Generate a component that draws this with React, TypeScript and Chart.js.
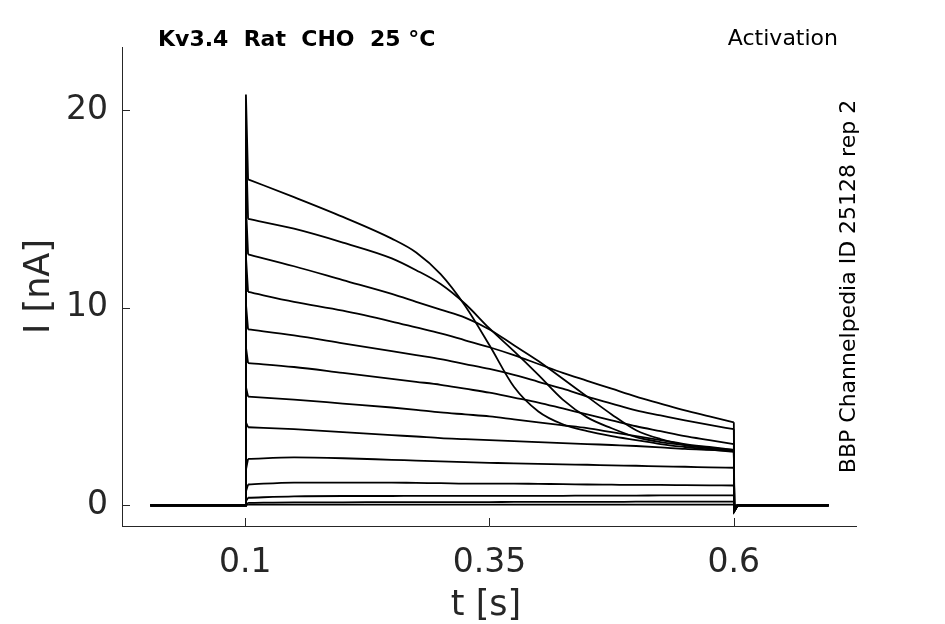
import { useEffect, useRef } from "react";
import { Chart, registerables } from "chart.js";

Chart.register(...registerables);

// Sample times (s) during the voltage step
const timeGrid = [0.103, 0.15, 0.2, 0.25, 0.275, 0.3, 0.325, 0.35, 0.375, 0.4, 0.425, 0.45, 0.475, 0.5, 0.525, 0.55, 0.575, 0.6];

// Current traces (nA), one per voltage step, largest first
const traceA = [16.5, 15.6, 14.6, 13.5, 12.8, 11.7, 10.1, 8.1, 6.0, 4.75, 4.1, 3.75, 3.5, 3.3, 3.1, 2.95, 2.82, 2.7];
const traceB = [14.5, 14.0, 13.3, 12.5, 11.9, 11.2, 10.2, 8.95, 7.8, 6.6, 5.35, 4.45, 3.9, 3.45, 3.2, 3.05, 2.9, 2.8];
const traceC = [12.7, 12.1, 11.4, 10.7, 10.3, 9.9, 9.5, 8.9, 8.1, 7.3, 6.4, 5.5, 4.6, 3.8, 3.35, 3.05, 2.88, 2.75];
const traceD = [10.8, 10.3, 9.85, 9.3, 9.0, 8.7, 8.35, 8.0, 7.6, 7.15, 6.7, 6.3, 5.9, 5.5, 5.15, 4.8, 4.5, 4.2];
const traceE = [8.9, 8.6, 8.2, 7.8, 7.6, 7.4, 7.15, 6.9, 6.6, 6.25, 5.9, 5.5, 5.15, 4.8, 4.55, 4.3, 4.07, 3.85];
const traceF = [7.2, 7.0, 6.7, 6.4, 6.25, 6.1, 5.9, 5.7, 5.45, 5.2, 4.9, 4.6, 4.3, 4.0, 3.75, 3.5, 3.3, 3.1];
const traceG = [5.5, 5.35, 5.15, 4.95, 4.83, 4.7, 4.6, 4.5, 4.35, 4.2, 4.05, 3.9, 3.7, 3.5, 3.3, 3.1, 2.95, 2.8];
const traceH = [3.95, 3.85, 3.7, 3.55, 3.48, 3.4, 3.35, 3.3, 3.25, 3.2, 3.15, 3.1, 3.05, 3.0, 2.93, 2.85, 2.8, 2.75];
const traceI = [2.35, 2.42, 2.38, 2.3, 2.26, 2.22, 2.18, 2.15, 2.12, 2.1, 2.07, 2.05, 2.02, 2.0, 1.97, 1.95, 1.92, 1.9];
const traceJ = [1.05, 1.15, 1.15, 1.15, 1.13, 1.12, 1.1, 1.1, 1.1, 1.08, 1.07, 1.05, 1.04, 1.03, 1.03, 1.02, 1.01, 1.0];
const traceK = [0.38, 0.45, 0.47, 0.47, 0.48, 0.48, 0.48, 0.48, 0.48, 0.48, 0.48, 0.49, 0.49, 0.49, 0.5, 0.5, 0.5, 0.5];
const traceL = [0.12, 0.15, 0.15, 0.16, 0.16, 0.16, 0.16, 0.16, 0.17, 0.17, 0.17, 0.17, 0.17, 0.18, 0.18, 0.18, 0.18, 0.18];
const traceM = [0.03, 0.03, 0.03, 0.03, 0.03, 0.03, 0.03, 0.03, 0.03, 0.03, 0.03, 0.03, 0.03, 0.03, 0.03, 0.03, 0.03, 0.03];

const traces = [traceA, traceB, traceC, traceD, traceE, traceF, traceG, traceH, traceI, traceJ, traceK, traceL, traceM];

// Capacitive / onset value just after the step, and tail dip just after step end
const onsetValues = [20.8, 18.5, 15.2, 12.6, 10.2, 8.0, 6.0, 4.2, 1.8, 0.7, 0.2, 0.05, 0.0];
const tailDips = [-0.3, -0.3, -0.3, -0.3, -0.3, -0.25, -0.25, -0.2, -0.2, -0.15, -0.1, -0.05, 0.0];

// Recording events (s): start, step on, onset peak, tail dip, tail settled, end
const eventTimes = [0.003, 0.1, 0.1008, 0.6005, 0.604, 0.697];

const xTickValues = [0.1, 0.35, 0.6];
const xTickLabels = ["0.1", "0.35", "0.6"];
const yTickValues = [0, 10, 20];
const yTickLabels = ["0", "10", "20"];

const xRange = [-0.026, 0.725];
const yRange = [-1.05, 23.2];

const titleText = "Kv3.4  Rat  CHO  25 °C";
const protocolText = "Activation";
const sourceText = "BBP Channelpedia ID 25128 rep 2";
const xLabel = "t [s]";
const yLabel = "I [nA]";

const FONT = '"DejaVu Sans", "Liberation Sans", sans-serif';
const AXIS_COLOR = "#262626";

type Pt = { x: number; y: number };

function onsetPoints(values: number[], onset: number): Pt[] {
  return [
    { x: eventTimes[0], y: 0 },
    { x: eventTimes[1], y: 0 },
    { x: eventTimes[2], y: onset },
    { x: timeGrid[0], y: values[0] },
  ];
}

function bodyPoints(values: number[]): Pt[] {
  return timeGrid.map((t, i) => ({ x: t, y: values[i] }));
}

function tailPoints(values: number[], dip: number): Pt[] {
  return [
    { x: timeGrid[timeGrid.length - 1], y: values[values.length - 1] },
    { x: eventTimes[3], y: dip },
    { x: eventTimes[4], y: 0 },
    { x: eventTimes[5], y: 0 },
  ];
}

const decorations = {
  id: "decorations",
  afterDraw(chart: any) {
    const { ctx, chartArea: a, scales } = chart;
    ctx.save();
    ctx.strokeStyle = AXIS_COLOR;
    ctx.lineWidth = 1;
    yTickValues.forEach((v) => {
      const py = Math.round(scales.y.getPixelForValue(v)) + 0.5;
      ctx.beginPath();
      ctx.moveTo(a.left, py);
      ctx.lineTo(a.left + 8, py);
      ctx.stroke();
    });
    xTickValues.forEach((v) => {
      const px = Math.round(scales.x.getPixelForValue(v)) + 0.5;
      ctx.beginPath();
      ctx.moveTo(px, a.bottom);
      ctx.lineTo(px, a.bottom - 8);
      ctx.stroke();
    });

    ctx.fillStyle = "#000";
    ctx.textBaseline = "middle";
    ctx.font = `bold 22px ${FONT}`;
    ctx.textAlign = "left";
    ctx.fillText(titleText, a.left + 36, 40);

    ctx.font = `22px ${FONT}`;
    ctx.textAlign = "right";
    ctx.fillText(protocolText, a.right - 18, 39);

    ctx.save();
    ctx.translate(a.right - 7, (a.top + a.bottom) / 2);
    ctx.rotate(-Math.PI / 2);
    ctx.textAlign = "center";
    ctx.font = `22px ${FONT}`;
    ctx.fillText(sourceText, 0, 0);
    ctx.restore();

    ctx.fillStyle = AXIS_COLOR;
    ctx.font = `35px ${FONT}`;
    ctx.textAlign = "center";
    ctx.fillText(xLabel, (a.left + a.right) / 2 - 3, 606);

    ctx.save();
    ctx.translate(40, (a.top + a.bottom) / 2);
    ctx.rotate(-Math.PI / 2);
    ctx.fillText(yLabel, 0, 0);
    ctx.restore();

    ctx.restore();
  },
};

export default function App() {
  const canvasRef = useRef<HTMLCanvasElement | null>(null);

  useEffect(() => {
    if (!canvasRef.current) return;
    const lineStyle = {
      borderColor: "#000",
      borderWidth: 1.8,
      pointRadius: 0,
      fill: false,
    };
    const datasets: any[] = [];
    traces.forEach((vals, i) => {
      datasets.push({ ...lineStyle, data: onsetPoints(vals, onsetValues[i]), tension: 0 });
      datasets.push({ ...lineStyle, data: bodyPoints(vals), cubicInterpolationMode: "monotone" });
      datasets.push({ ...lineStyle, data: tailPoints(vals, tailDips[i]), tension: 0 });
    });

    const chart = new Chart(canvasRef.current, {
      type: "line",
      data: { datasets },
      options: {
        animation: false,
        responsive: false,
        devicePixelRatio: 1,
        parsing: false,
        layout: { padding: { top: 47, right: 89, left: 0, bottom: 0 } },
        plugins: {
          legend: { display: false },
          tooltip: { enabled: false },
        },
        scales: {
          x: {
            type: "linear",
            min: xRange[0],
            max: xRange[1],
            afterFit: (scale: any) => {
              scale.height = 98;
            },
            afterBuildTicks: (scale: any) => {
              scale.ticks = xTickValues.map((v) => ({ value: v }));
            },
            ticks: {
              autoSkip: false,
              maxRotation: 0,
              padding: 18,
              color: AXIS_COLOR,
              font: { family: FONT, size: 33 },
              callback: (value: any) => {
                const idx = xTickValues.indexOf(Number(value));
                return idx >= 0 ? xTickLabels[idx] : "";
              },
            },
            grid: { drawOnChartArea: false, drawTicks: false },
            border: { display: true, color: AXIS_COLOR, width: 1 },
          },
          y: {
            type: "linear",
            min: yRange[0],
            max: yRange[1],
            afterFit: (scale: any) => {
              scale.width = 122;
            },
            afterBuildTicks: (scale: any) => {
              scale.ticks = yTickValues.map((v) => ({ value: v }));
            },
            ticks: {
              autoSkip: false,
              padding: 14,
              color: AXIS_COLOR,
              font: { family: FONT, size: 33 },
              callback: (value: any) => {
                const idx = yTickValues.indexOf(Number(value));
                return idx >= 0 ? yTickLabels[idx] : "";
              },
            },
            grid: { drawOnChartArea: false, drawTicks: false },
            border: { display: true, color: AXIS_COLOR, width: 1 },
          },
        },
      },
      plugins: [decorations],
    });
    return () => chart.destroy();
  }, []);

  return (
    <div style={{ position: "fixed", left: 0, top: 0, width: 945, height: 624, background: "#fff" }}>
      <canvas ref={canvasRef} width={945} height={624} style={{ display: "block" }} />
    </div>
  );
}
